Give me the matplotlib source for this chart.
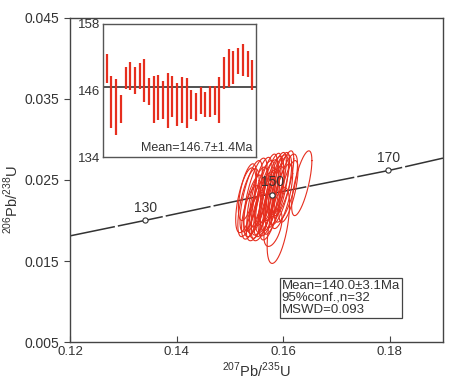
import numpy as np
import matplotlib
matplotlib.use('Agg')
import matplotlib.pyplot as plt

plt.rcParams['font.family'] = ['Liberation Sans', 'DejaVu Sans']
plt.rcParams['mathtext.fontset'] = 'custom'
plt.rcParams['mathtext.rm'] = 'Liberation Sans'

# concordia curve
conc_x = [0.120, 0.134, 0.157, 0.180, 0.190]
conc_y = [0.0181, 0.0200, 0.0232, 0.0262, 0.0277]
# age markers on the curve
mark_age = ['130', '150', '170']
mark_x = [0.1341, 0.1580, 0.1797]
mark_y = [0.0200, 0.0232, 0.0262]

# analysis ellipses: centre, half widths, correlation
ell_cx = [0.1530, 0.1535, 0.1540, 0.1545, 0.1548, 0.1552, 0.1555, 0.1558,
          0.1562, 0.1565, 0.1568, 0.1570, 0.1573, 0.1576, 0.1579, 0.1582,
          0.1585, 0.1588, 0.1592, 0.1595, 0.1600, 0.1605, 0.1635, 0.1591,
          0.1581, 0.1540, 0.1550, 0.1560, 0.1598, 0.1610, 0.1533, 0.1575]
ell_cy = [0.0225, 0.0222, 0.0230, 0.0218, 0.0232, 0.0225, 0.0215, 0.0235,
          0.0228, 0.0220, 0.0238, 0.0230, 0.0222, 0.0240, 0.0233, 0.0225,
          0.0242, 0.0236, 0.0244, 0.0238, 0.0246, 0.0240, 0.0246, 0.0194,
          0.0191, 0.0210, 0.0205, 0.0210, 0.0230, 0.0236, 0.0235, 0.0212]
ell_sx = [0.0019, 0.0020, 0.0021, 0.0019, 0.0022, 0.0020, 0.0019, 0.0021,
          0.0022, 0.0020, 0.0021, 0.0022, 0.0020, 0.0021, 0.0022, 0.0020,
          0.0021, 0.0022, 0.0020, 0.0021, 0.0020, 0.0022, 0.0019, 0.0021,
          0.0017, 0.0018, 0.0019, 0.0020, 0.0020, 0.0018, 0.0017, 0.0019]
ell_sy = [0.0040, 0.0042, 0.0044, 0.0038, 0.0045, 0.0041, 0.0037, 0.0043,
          0.0046, 0.0040, 0.0044, 0.0045, 0.0041, 0.0043, 0.0046, 0.0042,
          0.0042, 0.0045, 0.0040, 0.0043, 0.0040, 0.0042, 0.0040, 0.0047,
          0.0023, 0.0033, 0.0030, 0.0035, 0.0040, 0.0038, 0.0035, 0.0036]
ell_rho = [0.6, 0.65, 0.7, 0.6, 0.7, 0.65, 0.6, 0.7, 0.7, 0.65, 0.75, 0.7,
           0.65, 0.75, 0.7, 0.7, 0.75, 0.7, 0.75, 0.7, 0.75, 0.7, 0.7, 0.55,
           0.5, 0.6, 0.6, 0.6, 0.7, 0.7, 0.6, 0.65]

# inset: 206Pb/238U ages, error bar ends
age_top = [152.5, 148.7, 148.1, 145.1, 150.2, 151.1, 150.3, 150.9, 151.7, 148.3,
           148.6, 148.8, 147.8, 149.1, 148.7, 147.4, 148.5, 148.2, 146.0, 145.5,
           146.7, 145.7, 146.9, 146.8, 148.5, 152.0, 153.5, 153.2, 153.7, 154.3,
           153.1, 151.5]
age_bot = [147.4, 139.3, 138.0, 140.2, 146.2, 146.1, 145.4, 146.3, 144.0, 143.3,
           140.1, 140.7, 140.9, 139.3, 141.3, 139.6, 140.2, 139.3, 140.9, 140.5,
           141.8, 141.3, 141.2, 141.5, 140.2, 146.2, 146.6, 147.2, 148.9, 148.6,
           148.5, 146.1]
mean_age = 146.7

red = '#e62e1e'
txt = '#333333'

fig = plt.figure(figsize=(4.58, 3.82), dpi=100)
ax = fig.add_axes([0.1528, 0.1047, 0.8144, 0.8482])

ax.plot(conc_x, conc_y, color='#333333', lw=1.1, dashes=(30, 2), zorder=2)
t = np.linspace(0, 2 * np.pi, 200)
for cx, cy, sx, sy, r in zip(ell_cx, ell_cy, ell_sx, ell_sy, ell_rho):
    ex = cx + sx * np.cos(t)
    ey = cy + sy * (r * np.cos(t) + np.sqrt(1 - r * r) * np.sin(t))
    ax.plot(ex, ey, color=red, lw=0.8, zorder=3)
ax.scatter(mark_x, mark_y, s=14, facecolor='white', edgecolor='#333333',
           lw=0.8, zorder=4)
for a, x, y in zip(mark_age, mark_x, mark_y):
    ax.text(x, y + 0.0007, a, ha='center', va='bottom', fontsize=10,
            color=txt, zorder=5)

ax.text(0.1597, 0.0127, 'Mean=140.0±3.1Ma\n95%conf.,n=32\nMSWD=0.093',
        ha='left', va='top', fontsize=9.5, color=txt, linespacing=1.0,
        bbox=dict(boxstyle='square,pad=0.15', fc='white', ec='#444444', lw=0.9))

ax.set_xlim(0.12, 0.19)
ax.set_ylim(0.005, 0.045)
ax.set_xticks([0.12, 0.14, 0.16, 0.18])
ax.set_yticks([0.005, 0.015, 0.025, 0.035, 0.045])
ax.set_xticklabels(['0.12', '0.14', '0.16', '0.18'])
ax.set_yticklabels(['0.005', '0.015', '0.025', '0.035', '0.045'])
ax.tick_params(axis='x', direction='in', length=4, labelsize=9.5, colors='#444444',
               labelcolor=txt, pad=3)
ax.tick_params(axis='y', direction='out', length=4, labelsize=10, colors='#444444',
               labelcolor=txt)
for s in ax.spines.values():
    s.set_color('#444444')
    s.set_linewidth(1.0)
ax.set_xlabel(r'$^{207}$Pb/$^{235}$U', fontsize=10.5, color=txt, labelpad=2)
ax.set_ylabel(r'$^{206}$Pb/$^{238}$U', fontsize=10.5, color=txt)
ax.yaxis.set_label_coords(-0.13, 0.44)

# inset weighted mean plot
ins = fig.add_axes([0.2249, 0.589, 0.334, 0.3482])
idx = np.arange(len(age_top))
ins.vlines(idx, age_bot, age_top, color=red, lw=1.6)
ins.axhline(mean_age, color='#333333', lw=1.2, zorder=0)
ins.set_xlim(-0.8, len(age_top) - 0.2)
ins.set_ylim(134, 158)
ins.set_yticks([134, 146, 158])
ins.set_xticks([])
ins.tick_params(axis='y', length=0, labelsize=9.5, labelcolor=txt, pad=2)
for s in ins.spines.values():
    s.set_color('#555555')
    s.set_linewidth(1.0)
ins.text(0.98, 0.02, 'Mean=146.7±1.4Ma', transform=ins.transAxes,
         ha='right', va='bottom', fontsize=9, color=txt)

fig.savefig('out.png', dpi=100)
